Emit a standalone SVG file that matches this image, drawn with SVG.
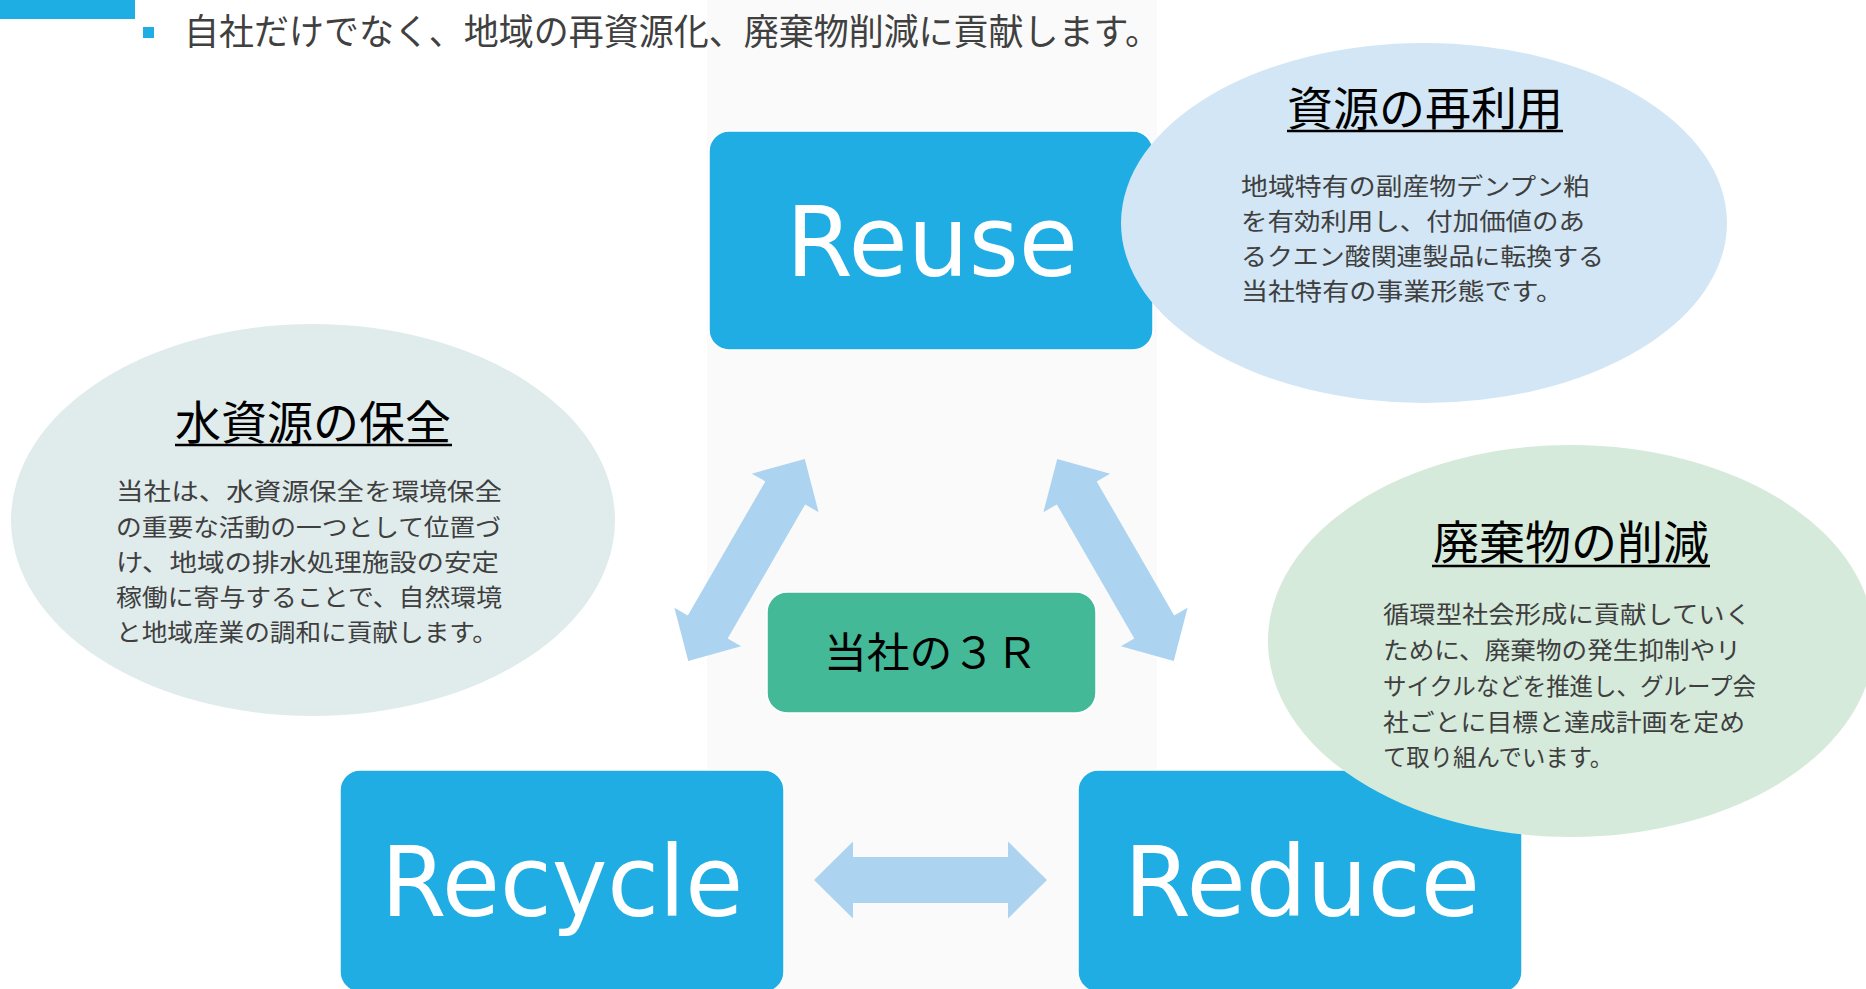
<svg xmlns="http://www.w3.org/2000/svg" xmlns:xlink="http://www.w3.org/1999/xlink" width="1866" height="989" viewBox="0 0 1866 989">
<defs>
<style>
.box{fill:#1fade4;stroke:#ffffff;stroke-width:1.5}
.big{font-family:"DejaVu Sans",sans-serif;font-size:98px;fill:#ffffff}
.jp{font-family:"Noto Sans CJK JP",sans-serif}
.title{font-size:46px;fill:#000000;text-anchor:middle}
.body{font-size:24px;fill:#3f3f3f}
.ul{stroke:#000000;stroke-width:2.5}
.arrow{fill:#acd3ef}
</style>
<path id="dblArrow" d="M -116.5 0 L -77.5 -38.5 L -77.5 -23 L 77.5 -23 L 77.5 -38.5 L 116.5 0 L 77.5 38.5 L 77.5 23 L -77.5 23 L -77.5 38.5 Z"/>
</defs>
<rect width="1866" height="989" fill="#ffffff"/>
<rect id="panel" x="707" y="0" width="450" height="989" fill="#fafafa"/>
<g id="header">
<rect x="0" y="0" width="135" height="19" fill="#1eaee4"/>
<rect x="143" y="27" width="11" height="11" fill="#1eaee4"/>
<text class="jp" x="184" y="45" font-size="36" fill="#404040" textLength="976" lengthAdjust="spacingAndGlyphs">自社だけでなく、地域の再資源化、廃棄物削減に貢献します。</text>
</g>
<g id="reuse">
<rect class="box" x="709" y="131" width="444" height="219" rx="20"/>
<text class="big" x="786" y="276" textLength="292" lengthAdjust="spacingAndGlyphs">Reuse</text>
</g>
<g id="recycle">
<rect class="box" x="340" y="770" width="444" height="222" rx="20"/>
<text class="big" x="381" y="916" textLength="362" lengthAdjust="spacingAndGlyphs">Recycle</text>
</g>
<g id="reduce">
<rect class="box" x="1078" y="770" width="444" height="222" rx="20"/>
<text class="big" x="1124" y="916" textLength="356" lengthAdjust="spacingAndGlyphs">Reduce</text>
</g>
<g id="center">
<rect x="767" y="592" width="329" height="121" rx="20" fill="#44b997" stroke="#ffffff" stroke-width="1.5"/>
<text class="jp" x="931" y="668" font-size="42" fill="#000000" text-anchor="middle" textLength="214" lengthAdjust="spacingAndGlyphs">当社の３Ｒ</text>
</g>
<g id="connectors">
<use xlink:href="#dblArrow" class="arrow" transform="translate(746.5,560) rotate(-60)"/>
<use xlink:href="#dblArrow" class="arrow" transform="translate(1115.5,560) rotate(60)"/>
<use xlink:href="#dblArrow" class="arrow" transform="translate(930.5,880)"/>
</g>
<g id="shigen">
<ellipse cx="1424" cy="223" rx="303" ry="180" fill="#d2e6f5"/>
<text class="jp title" x="1425" y="125">資源の再利用</text>
<line class="ul" x1="1287" y1="131" x2="1563" y2="131"/>
<text class="jp body" x="1241" y="195" textLength="349" lengthAdjust="spacingAndGlyphs">地域特有の副産物デンプン粕</text>
<text class="jp body" x="1241" y="230" textLength="344" lengthAdjust="spacingAndGlyphs">を有効利用し、付加価値のあ</text>
<text class="jp body" x="1241" y="265" textLength="363" lengthAdjust="spacingAndGlyphs">るクエン酸関連製品に転換する</text>
<text class="jp body" x="1241" y="300" textLength="322" lengthAdjust="spacingAndGlyphs">当社特有の事業形態です。</text>
</g>
<g id="mizu">
<ellipse cx="313" cy="520" rx="302" ry="196" fill="#e0ecec"/>
<text class="jp title" x="313" y="439">水資源の保全</text>
<line class="ul" x1="175" y1="445" x2="452" y2="445"/>
<text class="jp body" x="116" y="500" textLength="386" lengthAdjust="spacingAndGlyphs">当社は、水資源保全を環境保全</text>
<text class="jp body" x="116" y="536" textLength="385" lengthAdjust="spacingAndGlyphs">の重要な活動の一つとして位置づ</text>
<text class="jp body" x="116" y="571" textLength="383" lengthAdjust="spacingAndGlyphs">け、地域の排水処理施設の安定</text>
<text class="jp body" x="116" y="606" textLength="386" lengthAdjust="spacingAndGlyphs">稼働に寄与することで、自然環境</text>
<text class="jp body" x="116" y="641" textLength="382" lengthAdjust="spacingAndGlyphs">と地域産業の調和に貢献します。</text>
</g>
<g id="haiki">
<ellipse cx="1571" cy="641" rx="303" ry="196" fill="#d5eadb"/>
<text class="jp title" x="1571" y="559">廃棄物の削減</text>
<line class="ul" x1="1432" y1="566" x2="1710" y2="566"/>
<text class="jp body" x="1383" y="623" textLength="368" lengthAdjust="spacingAndGlyphs">循環型社会形成に貢献していく</text>
<text class="jp body" x="1383" y="659" textLength="358" lengthAdjust="spacingAndGlyphs">ために、廃棄物の発生抑制やリ</text>
<text class="jp body" x="1383" y="695" textLength="373" lengthAdjust="spacingAndGlyphs">サイクルなどを推進し、グループ会</text>
<text class="jp body" x="1383" y="731" textLength="362" lengthAdjust="spacingAndGlyphs">社ごとに目標と達成計画を定め</text>
<text class="jp body" x="1383" y="766" textLength="230" lengthAdjust="spacingAndGlyphs">て取り組んでいます。</text>
</g>
</svg>
